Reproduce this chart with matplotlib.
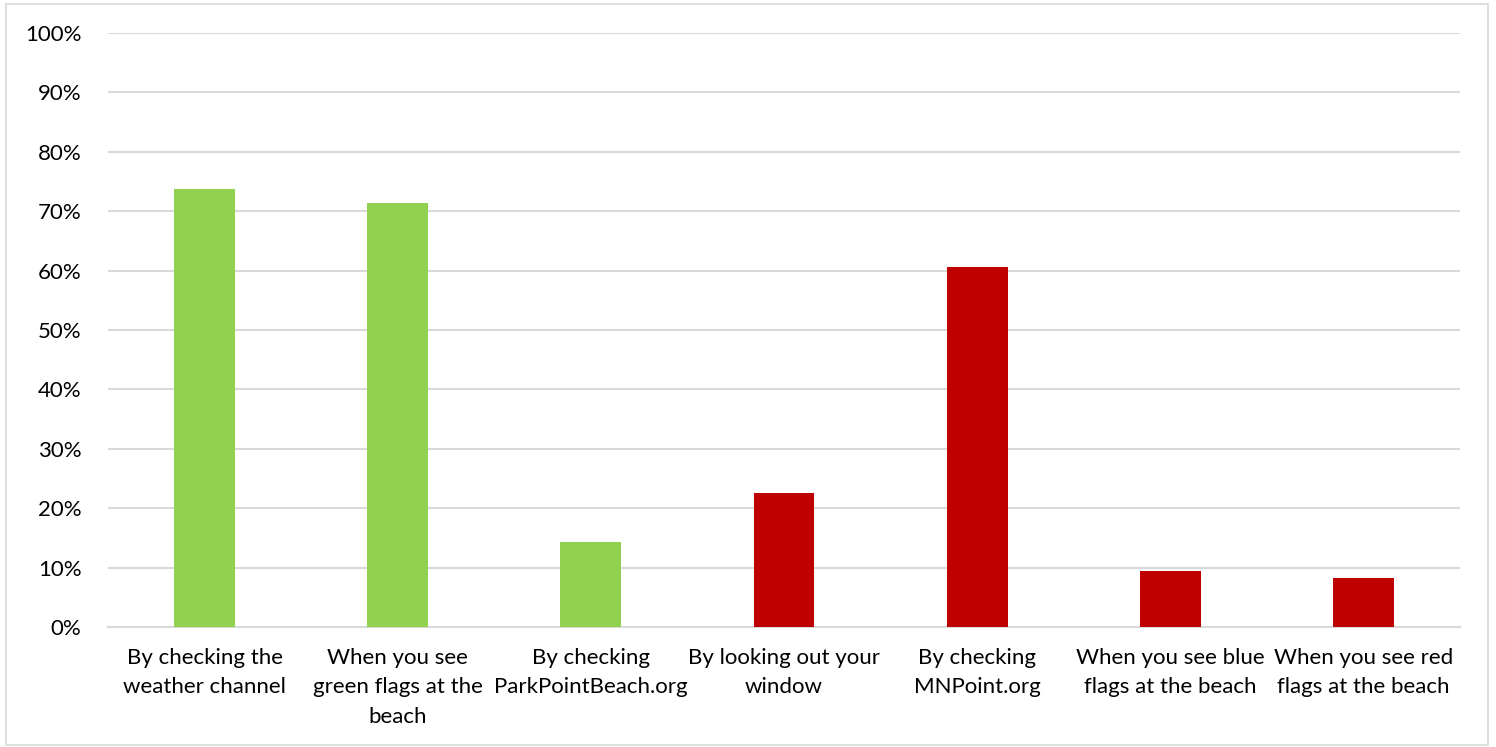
import matplotlib.pyplot as plt
from matplotlib.patches import Rectangle
from matplotlib.ticker import PercentFormatter

# survey answers and share of respondents
labels = [
    'By checking the\nweather channel',
    'When you see\ngreen flags at the\nbeach',
    'By checking\nParkPointBeach.org',
    'By looking out your\nwindow',
    'By checking\nMNPoint.org',
    'When you see blue\nflags at the beach',
    'When you see red\nflags at the beach',
]
values = [73.7, 71.4, 14.3, 22.6, 60.6, 9.4, 8.2]
bar_colors = ['#92D050', '#92D050', '#92D050', '#C00000', '#C00000', '#C00000', '#C00000']

plt.rcParams['font.family'] = ['Lato', 'DejaVu Sans']

fig = plt.figure(figsize=(14.96, 7.47), dpi=100)
ax = fig.add_axes([108 / 1496, 1 - 627 / 747, (1460 - 108) / 1496, (627 - 33) / 747])

x = range(len(values))
ax.bar(x, values, width=0.315, color=bar_colors, zorder=3)

ax.set_xlim(-0.5, len(values) - 0.5)
ax.set_ylim(0, 100)
ax.set_yticks(range(0, 101, 10))
ax.yaxis.set_major_formatter(PercentFormatter(decimals=0))
ax.set_xticks(list(x))
ax.set_xticklabels(labels, linespacing=1.6)

ax.grid(axis='y', color='#D9D9D9', linewidth=1.5, zorder=0)
for s in ['top', 'right', 'left']:
    ax.spines[s].set_visible(False)
ax.spines['bottom'].set_color('#D9D9D9')
ax.spines['bottom'].set_linewidth(1.5)
ax.tick_params(axis='both', length=0, labelsize=16, colors='black')
ax.tick_params(axis='y', pad=19)
ax.tick_params(axis='x', pad=15)

# outer frame
fig.patches.append(Rectangle((6 / 1496, 2 / 747), 1482 / 1496, 741 / 747,
                             transform=fig.transFigure, fill=False,
                             edgecolor='#D9D9D9', linewidth=1.2))

fig.savefig('out.png', dpi=100)
